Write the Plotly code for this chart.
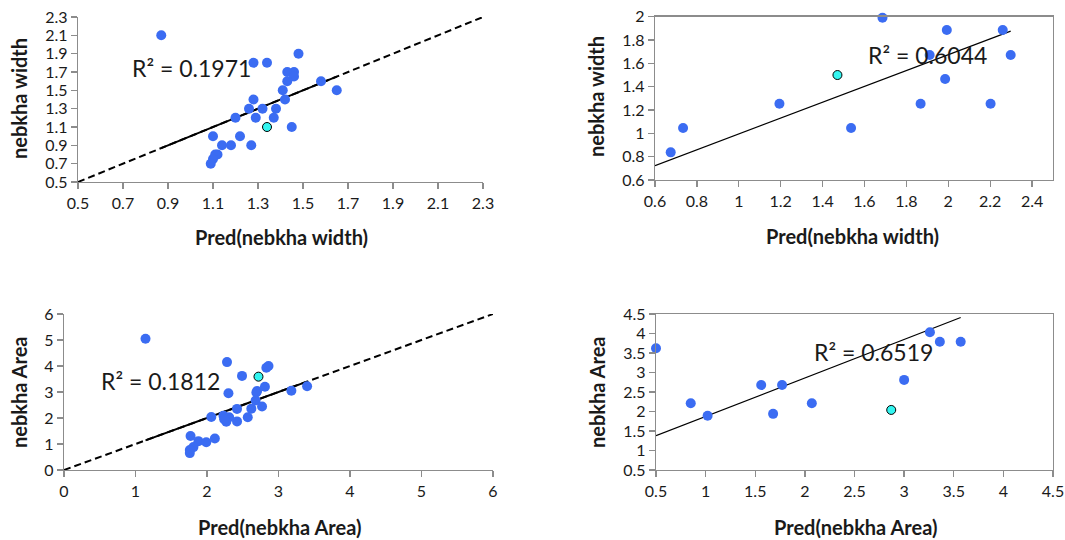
import plotly.graph_objects as go

# ---------------- data ----------------
# Panel 1: nebkha width (observed vs predicted), training
p1_pred = [0.87, 1.28, 1.34, 1.48, 1.43, 1.46, 1.46, 1.43, 1.58, 1.65, 1.41, 1.42, 1.28, 1.26,
           1.32, 1.38, 1.20, 1.29, 1.37, 1.45, 1.10, 1.22, 1.14, 1.18, 1.27, 1.12, 1.11, 1.10, 1.09]
p1_obs = [2.10, 1.80, 1.80, 1.90, 1.70, 1.70, 1.65, 1.60, 1.60, 1.50, 1.50, 1.40, 1.40, 1.30,
          1.30, 1.30, 1.20, 1.20, 1.20, 1.10, 1.00, 1.00, 0.90, 0.90, 0.90, 0.80, 0.80, 0.75, 0.70]
p1_hl_pred = [1.34]
p1_hl_obs = [1.10]
p1_r2 = "R² = 0.1971"

# Panel 2: nebkha width, validation
p2_pred = [0.675, 0.734, 1.194, 1.536, 1.686, 1.868, 1.911, 1.993, 1.985, 2.202, 2.26, 2.298]
p2_obs = [0.837, 1.046, 1.254, 1.046, 1.991, 1.254, 1.671, 1.886, 1.466, 1.254, 1.886, 1.671]
p2_hl_pred = [1.471]
p2_hl_obs = [1.50]
p2_trend = [0.316, 0.679]  # intercept, slope
p2_r2 = "R² = 0.6044"

# Panel 3: nebkha Area, training
p3_pred = [1.14, 2.28, 2.49, 2.83, 2.86, 2.30, 2.70, 2.69, 2.81, 3.18, 3.40, 2.68, 2.62, 2.77,
           2.42, 2.06, 2.23, 2.31, 2.27, 2.24, 2.42, 2.57, 1.77, 1.88, 1.99, 2.11, 1.81, 1.76, 1.76]
p3_obs = [5.05, 4.15, 3.62, 3.93, 4.00, 2.95, 3.04, 2.98, 3.20, 3.05, 3.22, 2.67, 2.36, 2.44,
          2.35, 2.04, 2.09, 2.03, 1.86, 1.95, 1.87, 2.03, 1.31, 1.11, 1.07, 1.21, 0.88, 0.77, 0.65]
p3_hl_pred = [2.72]
p3_hl_obs = [3.59]
p3_r2 = "R² = 0.1812"

# Panel 4: nebkha Area, validation
p4_pred = [0.50, 0.85, 1.02, 1.56, 1.77, 1.68, 2.07, 3.00, 3.26, 3.36, 3.57]
p4_obs = [3.62, 2.21, 1.89, 2.68, 2.68, 1.94, 2.21, 2.81, 4.03, 3.79, 3.79]
p4_hl_pred = [2.87]
p4_hl_obs = [2.04]
p4_trend = [0.887, 0.987]  # intercept, slope
p4_r2 = "R² = 0.6519"

# axis settings (range, tick step)
p1_range = [0.5, 2.3]
p2_xrange, p2_yrange = [0.6, 2.5], [0.6, 2.0]
p3_range = [0, 6]
p4_range = [0.5, 4.5]

# ---------------- style ----------------
BLUE = "#3B6CF2"
CYAN = "#33F5F0"
AXC = "#8C8C8C"
TXT = "#1A1A1A"
FONT = "Lato"

fig = go.Figure()


def add_points(xref, yref, xs, ys, hx, hy):
    fig.add_trace(go.Scatter(x=xs, y=ys, mode="markers", xaxis=xref, yaxis=yref,
                             marker=dict(color=BLUE, size=10, line=dict(width=0)),
                             showlegend=False, hoverinfo="skip", cliponaxis=False))
    fig.add_trace(go.Scatter(x=hx, y=hy, mode="markers", xaxis=xref, yaxis=yref,
                             marker=dict(color=CYAN, size=9, line=dict(color="black", width=1)),
                             showlegend=False, hoverinfo="skip", cliponaxis=False))


def add_identity(xref, yref, rng, xs):
    # dashed 1:1 line across the axis range, solid over the data range
    fig.add_trace(go.Scatter(x=rng, y=rng, mode="lines", xaxis=xref, yaxis=yref,
                             line=dict(color="black", width=2, dash="7px,4px"),
                             showlegend=False, hoverinfo="skip"))
    lo, hi = min(xs), max(xs)
    fig.add_trace(go.Scatter(x=[lo, hi], y=[lo, hi], mode="lines", xaxis=xref, yaxis=yref,
                             line=dict(color="black", width=2),
                             showlegend=False, hoverinfo="skip"))


def add_trend(xref, yref, x0, xs, coef):
    x1 = max(xs)
    fig.add_trace(go.Scatter(x=[x0, x1], y=[coef[0] + coef[1] * x0, coef[0] + coef[1] * x1],
                             mode="lines", xaxis=xref, yaxis=yref,
                             line=dict(color="black", width=1.2),
                             showlegend=False, hoverinfo="skip"))


add_identity("x", "y", p1_range, p1_pred + p1_hl_pred)
add_points("x", "y", p1_pred, p1_obs, p1_hl_pred, p1_hl_obs)

add_trend("x2", "y2", p2_xrange[0], p2_pred, p2_trend)
add_points("x2", "y2", p2_pred, p2_obs, p2_hl_pred, p2_hl_obs)

add_identity("x3", "y3", p3_range, p3_pred + p3_hl_pred)
add_points("x3", "y3", p3_pred, p3_obs, p3_hl_pred, p3_hl_obs)

add_trend("x4", "y4", p4_range[0], p4_pred, p4_trend)
add_points("x4", "y4", p4_pred, p4_obs, p4_hl_pred, p4_hl_obs)

W, H = 1065, 540


def ax(domain, rng, dtick, anchor, mirror=False):
    return dict(domain=domain, range=rng, dtick=dtick, tick0=rng[0], anchor=anchor,
                showgrid=False, zeroline=False, showline=True, linecolor=AXC, linewidth=1.3,
                mirror=mirror, ticks="outside", ticklen=6, tickcolor=AXC, tickwidth=1.3,
                automargin=False,
                tickfont=dict(family=FONT, size=16, color=TXT), fixedrange=True)


def xd(a, b):
    return [a / W, b / W]


def yd(top, bottom):
    return [1 - bottom / H, 1 - top / H]


layout = dict(
    width=W, height=H, margin=dict(l=0, r=0, t=0, b=0, pad=0, autoexpand=False),
    paper_bgcolor="white", plot_bgcolor="white",
    font=dict(family=FONT, color=TXT),
    hovermode=False,
    xaxis=ax(xd(78, 483), p1_range, 0.2, "y"),
    yaxis=ax(yd(17, 182), p1_range, 0.2, "x"),
    xaxis2=ax(xd(655, 1053), p2_xrange, 0.2, "y2", True),
    yaxis2=ax(yd(16.7, 180), p2_yrange, 0.2, "x2", True),
    xaxis3=ax(xd(64, 493), p3_range, 1, "y3"),
    yaxis3=ax(yd(314, 470), p3_range, 1, "x3"),
    xaxis4=ax(xd(656, 1053), p4_range, 0.5, "y4", True),
    yaxis4=ax(yd(314, 470), p4_range, 0.5, "x4", True),
)
fig.update_layout(**layout)

# axis titles as annotations placed in paper coordinates
titles = [
    ("Pred(nebkha width)", 281, 237, 0),
    ("nebkha width", 19, 99, -90),
    ("Pred(nebkha width)", 852, 236, 0),
    ("nebkha width", 596, 97, -90),
    ("Pred(nebkha Area)", 279, 527, 0),
    ("nebkha Area", 19, 392, -90),
    ("Pred(nebkha Area)", 855, 527, 0),
    ("nebkha Area", 597, 392, -90),
]
for text, px, py, rot in titles:
    fig.add_annotation(text="<b>%s</b>" % text, x=px / W, y=1 - py / H, xref="paper", yref="paper",
                       showarrow=False, textangle=rot, xanchor="center", yanchor="middle",
                       font=dict(family=FONT, size=20, color=TXT))

# R² labels in data coordinates
r2_labels = [
    (p1_r2, 1.005, 1.744, "x", "y"),
    (p2_r2, 1.902, 1.671, "x2", "y2"),
    (p3_r2, 1.343, 3.43, "x3", "y3"),
    (p4_r2, 2.69, 3.53, "x4", "y4"),
]
for text, x, y, xr, yr in r2_labels:
    fig.add_annotation(text=text, x=x, y=y, xref=xr, yref=yr, showarrow=False,
                       xanchor="center", yanchor="middle",
                       font=dict(family=FONT, size=23, color=TXT))

# remove the default page margin so the figure sits at the window's top-left corner
fig.write_html("out.html", config={"displayModeBar": False, "staticPlot": True},
               post_script="document.body.style.margin='0';document.body.style.overflow='hidden';")
